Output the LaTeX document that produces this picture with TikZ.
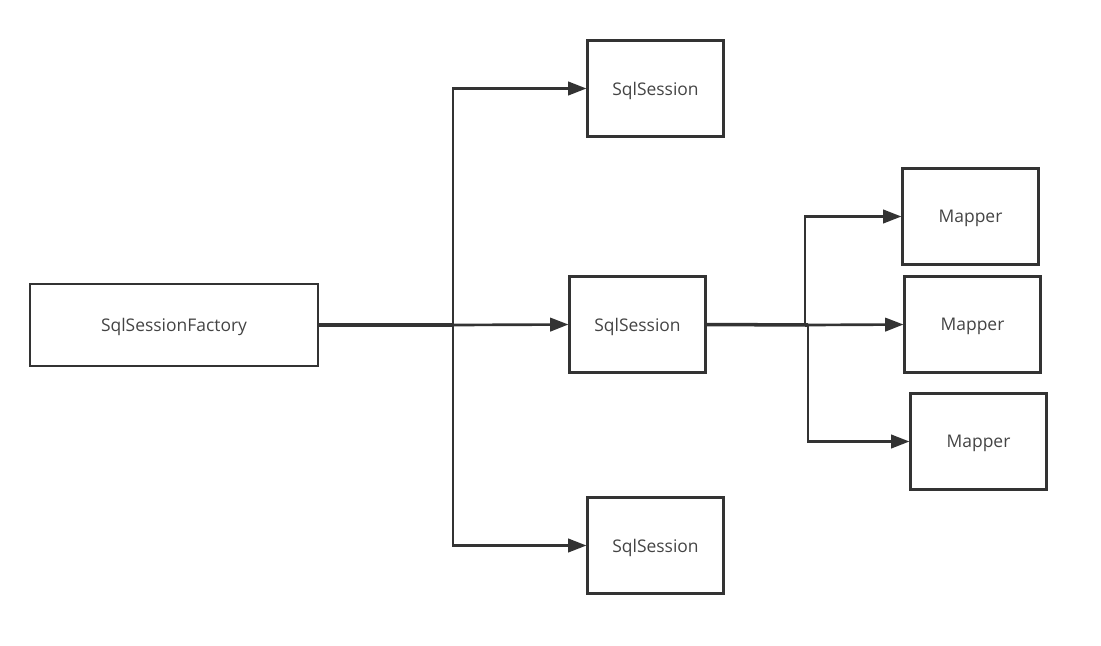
\documentclass[tikz,border=0pt]{standalone}
\usepackage{fontspec}
\setmainfont{Open Sans}
\usetikzlibrary{arrows.meta}
\definecolor{ink}{HTML}{333333}
\definecolor{label}{HTML}{444444}
\tikzset{
  box/.style={draw=ink,line width=2pt,minimum width=3.38cm,minimum height=2.38cm,
    inner sep=0pt,text depth=0pt,text=label,font=\fontsize{12.4}{14}\selectfont},
  wide/.style={box,minimum width=7.2cm,minimum height=2.05cm},
  link/.style={draw=ink,line width=1.9pt},
  arrow/.style={link,-{Triangle[length=13pt,width=9.5pt]}}
}
\begin{document}
\begin{tikzpicture}[x=0.025cm,y=-0.025cm]
      \useasboundingbox (0,0) rectangle (1101,646);
      \node[wide] (factory) at (174,325) {SqlSessionFactory};
      \node[box] (sessA) at (655.5,88.5) {SqlSession};
      \node[box] (sessB) at (637.5,324.5) {SqlSession};
      \node[box] (sessC) at (655.5,545.5) {SqlSession};
      \node[box] (mapA) at (970.5,216.5) {Mapper};
      \node[box] (mapB) at (972.5,324.5) {Mapper};
      \node[box] (mapC) at (978.5,441.5) {Mapper};
      % factory fan-out
      \coordinate (fork) at (453,325);
      \draw[link,line width=2.5pt] (factory.east) -- (fork);
      \draw[arrow] (fork) |- (sessA.west);
      \draw[arrow] (fork) -- (sessB.west);
      \draw[arrow] (fork) |- (sessC.west);
      % session fan-out
      \coordinate (forkA) at (805,325);
      \coordinate (forkB) at (808,325);
      \draw[link,line width=2.5pt] (sessB.east) -- (forkB);
      \draw[arrow] (forkA) |- (mapA.west);
      \draw[arrow] (forkB) -- (mapB.west);
      \draw[arrow] (forkB) |- (mapC.west);
    \end{tikzpicture}
\end{document}
